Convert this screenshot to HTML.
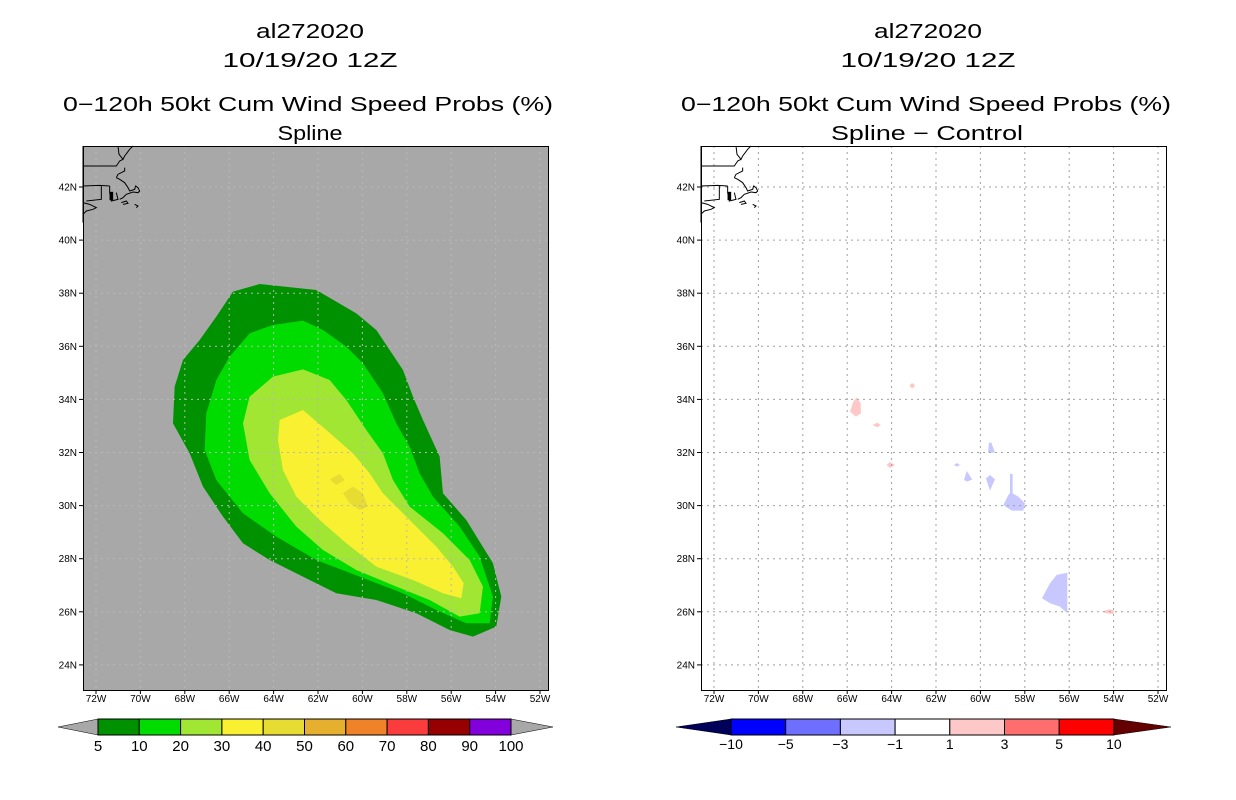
<!DOCTYPE html>
<html><head><meta charset="utf-8"><style>
html,body{margin:0;padding:0;background:#fff;width:1236px;height:800px;overflow:hidden}
svg{display:block;font-family:"Liberation Sans",sans-serif}
#lcoast polyline,#rcoast polyline{vector-effect:non-scaling-stroke}
</style></head><body>
<svg id="root" width="1236" height="800" viewBox="0 0 1236 800" xmlns="http://www.w3.org/2000/svg">
<g font-size="20" text-anchor="middle" fill="#000">
<text x="310" y="38" textLength="108" lengthAdjust="spacingAndGlyphs">al272020</text>
<text x="310" y="67" textLength="175" lengthAdjust="spacingAndGlyphs">10/19/20 12Z</text>
<text x="308" y="111" textLength="490" lengthAdjust="spacingAndGlyphs">0−120h 50kt Cum Wind Speed Probs (%)</text>
<text x="310" y="140" textLength="65" lengthAdjust="spacingAndGlyphs">Spline</text>
</g>
<g font-size="20" text-anchor="middle" fill="#000">
<text x="928" y="38" textLength="108" lengthAdjust="spacingAndGlyphs">al272020</text>
<text x="928" y="67" textLength="175" lengthAdjust="spacingAndGlyphs">10/19/20 12Z</text>
<text x="926" y="111" textLength="490" lengthAdjust="spacingAndGlyphs">0−120h 50kt Cum Wind Speed Probs (%)</text>
<text x="927" y="140" textLength="192" lengthAdjust="spacingAndGlyphs">Spline − Control</text>
</g>

<g>
<rect x="83" y="146" width="465" height="544" fill="#a8a8a8"/>
<g transform="translate(83,280) scale(0.3333)">
<polygon fill="#009100" points="450,35 530,12 700,30 820,100 880,150 960,270 990,350 1020,420 1070,530 1080,640 1150,720 1230,850 1255,950 1240,1040 1170,1070 1100,1050 1000,1000 880,960 760,940 680,900 560,840 480,790 420,710 360,620 320,520 270,430 275,320 300,240 350,180 400,110"/>
<polygon fill="#00dc00" points="500,160 570,135 660,122 720,150 790,200 840,250 900,340 940,430 980,500 1010,580 1050,650 1130,740 1190,830 1230,950 1220,1030 1150,1030 1060,990 960,940 830,890 700,840 580,770 480,700 400,600 365,510 370,400 400,300 440,230"/>
<polygon fill="#a0e632" points="570,290 660,268 740,300 790,360 850,450 900,520 930,600 980,680 1080,760 1160,840 1200,920 1190,1000 1130,1010 1040,960 940,920 820,870 720,810 640,740 560,640 500,540 480,430 500,350"/>
<polygon fill="#faf032" points="590,420 660,390 730,450 810,520 860,580 900,640 980,720 1060,800 1110,860 1142,910 1135,955 1080,940 990,900 880,860 790,790 710,720 640,650 600,570 585,480"/>
<polygon fill="#e6dc32" points="740,598 770,582 785,600 760,615"/>
<polygon fill="#e6dc32" points="780,640 810,620 840,640 855,680 830,690 800,670"/>
</g>
<g id="lgrid" stroke="#b8b8b8" stroke-width="1" stroke-dasharray="2,4"></g>
<g id="lcoast" fill="none" stroke="#000" stroke-width="1"></g>
<rect x="83.5" y="146.5" width="465" height="544" fill="none" stroke="#000"/>
<g id="laxes"></g>
</g>

<g>
<rect x="701" y="146" width="465" height="544" fill="#fff"/>
<g transform="translate(830,370) scale(0.3333)">
<g fill="#ffc8c8">
<polygon points="80,82 92,100 93,130 78,140 60,125 70,95"/>
<circle cx="247" cy="47" r="7"/>
<polygon points="128,165 142,158 152,165 142,172"/>
<polygon points="170,285 180,276 195,285 180,294"/>
<polygon points="815,725 840,718 852,722 850,732 830,730"/>
</g>
<g fill="#c8c8ff">
<polygon points="477,218 484,218 495,248 474,248"/>
<polygon points="372,285 381,279 390,285 381,290"/>
<polygon points="402,330 410,303 427,328 412,335"/>
<polygon points="468,325 480,315 495,328 480,362"/>
<polygon points="540,312 548,312 548,370 565,380 585,400 580,422 545,422 520,405 535,375 540,370"/>
<polygon points="712,608 712,730 690,710 660,700 636,685 660,640 680,615"/>
</g>
</g>
<g id="rgrid" stroke="#a0a0a0" stroke-width="1" stroke-dasharray="2,4"></g>
<g id="rcoast" fill="none" stroke="#000" stroke-width="1"></g>
<rect x="701.5" y="146.5" width="465" height="544" fill="none" stroke="#000"/>
<g id="raxes"></g>
</g>

<g id="lbar"></g>
<g id="rbar"></g>
</svg>
<script>
const lonLabels = ["72W","70W","68W","66W","64W","62W","60W","58W","56W","54W","52W"];
const latLabels = ["42N","40N","38N","36N","34N","32N","30N","28N","26N","24N"];
const probLevels = ["5","10","20","30","40","50","60","70","80","90","100"];
const probColors = ["#009100","#00dc00","#a0e632","#faf032","#e6dc32","#e6af2d","#f08228","#fa3c3c","#960000","#8200dc"];
const diffLevels = ["−10","−5","−3","−1","1","3","5","10"];
const diffColors = ["#0000ff","#6e6eff","#c8c8ff","#ffffff","#ffc8c8","#ff6e6e","#ff0000"];
const NS="http://www.w3.org/2000/svg";
function mk(tag,attrs,parent){const e=document.createElementNS(NS,tag);for(const k in attrs)e.setAttribute(k,attrs[k]);parent.appendChild(e);return e;}
function xLon(i,x0){return x0+13+i*44.4;}
function yLat(i){return 187+i*53.1;}
function drawMap(x0,grid,axes,coast){
  const g=document.getElementById(grid), a=document.getElementById(axes), c=document.getElementById(coast);
  lonLabels.forEach((l,i)=>{
    const x=xLon(i,x0);
    mk('line',{x1:x,y1:146,x2:x,y2:690},g);
    mk('line',{x1:x,y1:690,x2:x,y2:694,stroke:'#000'},a);
    const t=mk('text',{x:x,y:702,'font-size':10,'text-anchor':'middle'},a);t.textContent=l;
    
    
  });
  latLabels.forEach((l,i)=>{
    const y=yLat(i);
    mk('line',{x1:x0,y1:y,x2:x0+465,y2:y},g);
    mk('line',{x1:x0-4,y1:y,x2:x0,y2:y,stroke:'#000'},a);
    const t=mk('text',{x:x0-6,y:y+3.5,'font-size':10,'text-anchor':'end'},a);t.textContent=l;
    
    
  });
  const cg=mk('g',{transform:`translate(${x0},146) scale(0.3333)`},c);
  const lines=["105,0 108,25 120,40 125,30 140,10 150,0","0,60 100,60 110,45 120,40","0,120 50,118 80,120","55,120 55,160 10,165","80,120 80,140 85,165 105,160 100,140","100,95 105,85 125,75 125,65","100,95 110,100 125,110 135,125 140,135 155,130 158,120 165,125 170,135 165,140 150,138 130,145 120,155 110,160","0,170 20,175 40,185 30,190 10,195 0,205","115,170 130,165 135,172 120,175","155,175 165,180 160,185","0,0 0,230"];
  lines.forEach(p=>mk('polyline',{points:p},cg));
  mk('rect',{x:80,y:138,width:10,height:24,fill:'#000'},cg);
}
drawMap(83,'lgrid','laxes','lcoast');
drawMap(701,'rgrid','raxes','rcoast');
(function(){
  const b=document.getElementById('lbar');const x0=98,w=41.3,y=719,h=16;
  mk('polygon',{points:`${x0},${y} ${x0},${y+h} 58,${y+h/2}`,fill:'#a8a8a8',stroke:'#000','stroke-width':0.5},b);
  const xe=x0+w*probColors.length;
  mk('polygon',{points:`${xe},${y} ${xe},${y+h} 553,${y+h/2}`,fill:'#a8a8a8',stroke:'#000','stroke-width':0.5},b);
  probColors.forEach((c,i)=>{const r=mk('rect',{x:x0+i*w,y:y,width:w,height:h,fill:c,stroke:'#000'},b);
    });
  probLevels.forEach((l,i)=>{const t=mk('text',{x:x0+i*w,y:751,'font-size':15,'text-anchor':'middle'},b);t.textContent=l;
    });
})();
(function(){
  const b=document.getElementById('rbar');const x0=731,w=54.7,y=719,h=16;
  mk('polygon',{points:`${x0},${y} ${x0},${y+h} 676,${y+h/2}`,fill:'#00005a',stroke:'#000','stroke-width':0.5},b);
  const xe=x0+w*diffColors.length;
  mk('polygon',{points:`${xe},${y} ${xe},${y+h} 1171,${y+h/2}`,fill:'#640000',stroke:'#000','stroke-width':0.5},b);
  diffColors.forEach((c,i)=>{const r=mk('rect',{x:x0+i*w,y:y,width:w,height:h,fill:c,stroke:'#000'},b);
    });
  diffLevels.forEach((l,i)=>{const t=mk('text',{x:x0+i*w,y:749,'font-size':14,'text-anchor':'middle'},b);t.textContent=l;
    });
})();
</script>
</body></html>
